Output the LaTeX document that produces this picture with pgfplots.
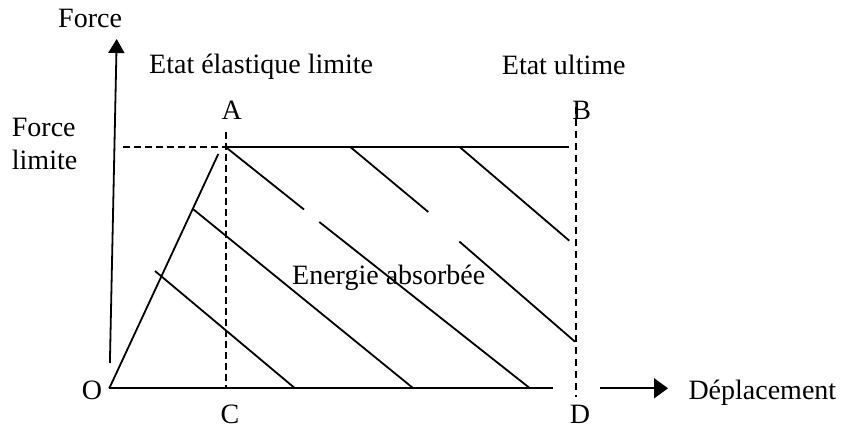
\documentclass[border=0pt]{standalone}
\usepackage{fontspec}
\setmainfont{Liberation Serif}
\usepackage{pgfplots}
\pgfplotsset{compat=1.18}
\usetikzlibrary{arrows.meta}
\begin{document}
\begin{tikzpicture}
\useasboundingbox (0,0) rectangle (842bp,430bp);
\begin{axis}[
  at={(0,0)}, anchor=origin,
  width=842bp, height=430bp, scale only axis,
  xmin=0, xmax=842, ymin=0, ymax=430,
  hide axis, clip=false,
  cycle list={{black,mark=none,solid,line width=1.8bp}},
  ln/.style={black, mark=none, solid, line width=1.8bp},
  dsh/.style={black, mark=none, line width=1.8bp},
  nodes={font=\fontsize{28bp}{34bp}\selectfont, inner sep=0pt},
]
% axes
\addplot[ln, -{Triangle[length=14bp,width=16bp]}] coordinates {(109.9,67) (116.7,391)};
\addplot[ln] coordinates {(109.3,41.7) (552.7,41.7)};
\addplot[ln, -{Triangle[length=14bp,width=20bp]}] coordinates {(600,41.7) (668,41.7)};
% elastic line O-A
\addplot[ln] coordinates {(109.3,41.7) (218.3,276)};
% plateau
\addplot[ln] coordinates {(226,282.7) (569,282.7)};
% dashed guides
\addplot[dsh, dash pattern=on 7bp off 4bp] coordinates {(123,282.7) (226,282.7)};
\addplot[dsh, dash pattern=on 7bp off 4bp] coordinates {(226,298) (226,41.7)};
\addplot[dsh, dash pattern=on 7bp off 5bp] coordinates {(576,323) (576,33.3)};
% hatching
\addplot[ln] coordinates {(155,159) (295,41.7)};
\addplot[ln] coordinates {(193.3,220.7) (413.3,41.7)};
\addplot[ln] coordinates {(226,282.7) (304,220.5)};
\addplot[ln] coordinates {(319.3,208) (530,41.7)};
\addplot[ln] coordinates {(350.7,282.7) (428.3,218)};
\addplot[ln] coordinates {(459.3,188.5) (575,88.3)};
\addplot[ln] coordinates {(460,282.7) (569.3,189.3)};
% labels
\node[anchor=base west] at (axis cs:58,402.7) {Force};
\node[anchor=base west] at (axis cs:149,356) {Etat élastique limite};
\node[anchor=base west] at (axis cs:501.7,355) {Etat ultime};
\node[anchor=base] at (axis cs:231.7,310) {A};
\node[anchor=base] at (axis cs:581.7,310) {B};
\node[anchor=base west] at (axis cs:11.7,293.3) {Force};
\node[anchor=base west] at (axis cs:11.7,260) {limite};
\node[anchor=base west] at (axis cs:292,145.5) {Energie absorbée};
\node[anchor=base west] at (axis cs:81.7,30.7) {O};
\node[anchor=base] at (axis cs:230,6) {C};
\node[anchor=base] at (axis cs:580,6) {D};
\node[anchor=base west] at (axis cs:688.3,30) {Déplacement};
\end{axis}
\end{tikzpicture}
\end{document}
